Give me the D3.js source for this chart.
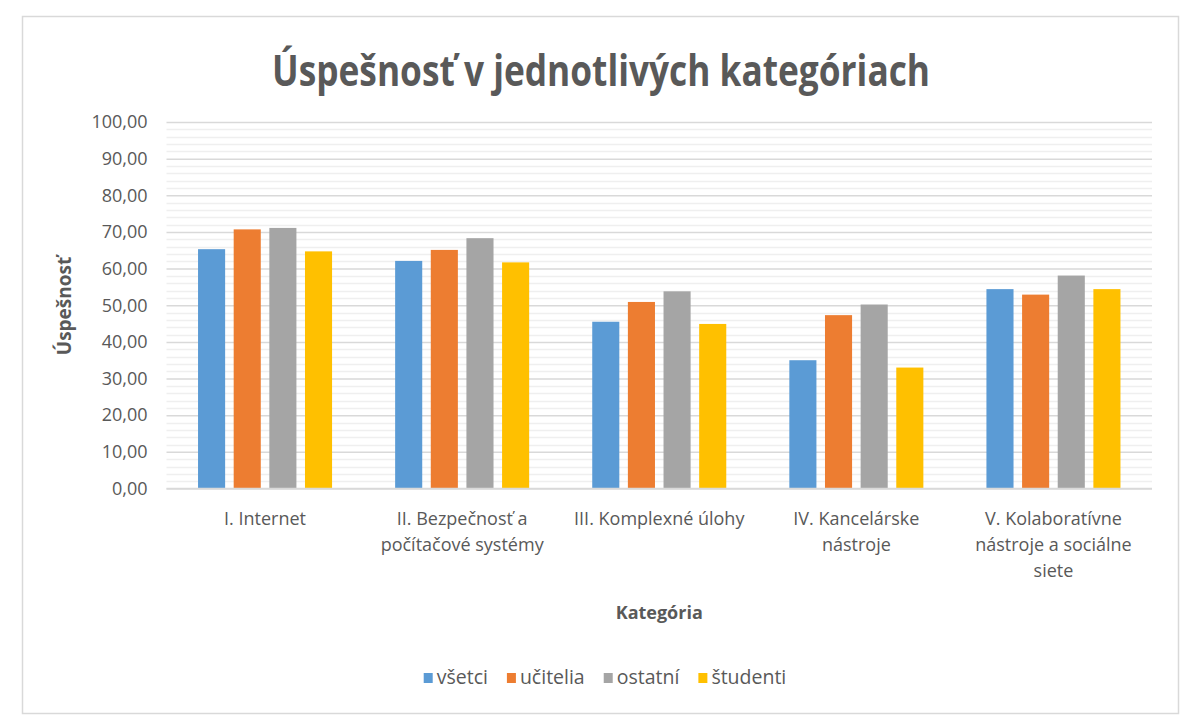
<!DOCTYPE html>
<html>
<head>
<meta charset="utf-8">
<script src="https://cdn.jsdelivr.net/npm/d3@7"></script>
<style>
  html, body { margin: 0; padding: 0; background: #fff; }
  svg { display: block; }
  text { font-family: "Open Sans", "Noto Sans", sans-serif; }
</style>
</head>
<body>
<svg id="chart" width="1200" height="727"></svg>
<script>
// ---- data ----
const categories = [
  "I. Internet",
  "II. Bezpečnosť a počítačové systémy",
  "III. Komplexné úlohy",
  "IV. Kancelárske nástroje",
  "V. Kolaboratívne nástroje a sociálne siete"
];
const categoryLines = [
  ["I. Internet"],
  ["II. Bezpečnosť a", "počítačové systémy"],
  ["III. Komplexné úlohy"],
  ["IV. Kancelárske", "nástroje"],
  ["V. Kolaboratívne", "nástroje a sociálne", "siete"]
];
const seriesNames = ["všetci", "učitelia", "ostatní", "študenti"];
const vsetci   = [65.3, 62.1, 45.5, 35.0, 54.4];
const ucitelia = [70.7, 65.1, 50.9, 47.3, 52.9];
const ostatni  = [71.1, 68.3, 53.8, 50.2, 58.1];
const studenti = [64.7, 61.7, 44.9, 33.0, 54.4];
const seriesValues = [vsetci, ucitelia, ostatni, studenti];
const colors = ["#5b9bd5", "#ed7d31", "#a5a5a5", "#ffc000"];
const yTicks = [0, 10, 20, 30, 40, 50, 60, 70, 80, 90, 100];
const titleText = "Úspešnosť v jednotlivých kategóriach";
const yTitle = "Úspešnosť";
const xTitle = "Kategória";

// ---- layout ----
const svg = d3.select("#chart");
const plot = { left: 166.5, right: 1152, top: 122, bottom: 488.5 };

svg.append("rect")
  .attr("x", 22.5).attr("y", 16.5).attr("width", 1156).attr("height", 697)
  .attr("fill", "#fff").attr("stroke", "#d9d9d9").attr("stroke-width", 1.5);

const y = d3.scaleLinear().domain([0, 100]).range([plot.bottom, plot.top]);
const x0 = d3.scaleBand().domain(categories).range([plot.left, plot.right])
  .paddingInner(0.32).paddingOuter(0.16);
const x1 = d3.scaleBand().domain(seriesNames).range([0, x0.bandwidth()])
  .paddingInner(0.24).paddingOuter(0);

// minor gridlines
const minor = d3.range(0, 101, 2).filter(v => v % 10 !== 0);
svg.append("g").selectAll("line").data(minor).join("line")
  .attr("x1", plot.left).attr("x2", plot.right)
  .attr("y1", d => Math.round(y(d)) + 0.5).attr("y2", d => Math.round(y(d)) + 0.5)
  .attr("stroke", "#efefef").attr("stroke-width", 1.5);

// major gridlines via axis
const yAxis = d3.axisLeft(y).tickValues(yTicks)
  .tickSize(-(plot.right - plot.left)).tickPadding(19)
  .tickFormat(d => d3.format(".2f")(d).replace(".", ","));
const gy = svg.append("g").attr("transform", `translate(${plot.left},0)`).call(yAxis);
gy.select(".domain").remove();
gy.selectAll(".tick line").attr("stroke", "#d9d9d9").attr("stroke-width", 1.5);
gy.selectAll(".tick text").attr("fill", "#595959").attr("font-size", 18)
  .attr("font-family", "'Open Sans', sans-serif");

// bars
const groups = svg.append("g").selectAll("g").data(categories).join("g")
  .attr("transform", d => `translate(${x0(d)},0)`);
groups.selectAll("rect")
  .data((c, i) => seriesNames.map((s, j) => ({ s, j, v: seriesValues[j][i] })))
  .join("rect")
  .attr("x", d => x1(d.s))
  .attr("width", x1.bandwidth())
  .attr("y", d => y(d.v))
  .attr("height", d => y(0) - y(d.v))
  .attr("fill", d => colors[d.j]);

// x axis baseline
svg.append("line")
  .attr("x1", plot.left).attr("x2", plot.right)
  .attr("y1", y(0)).attr("y2", y(0))
  .attr("stroke", "#d9d9d9").attr("stroke-width", 1.5);

// x axis labels
const xl = svg.append("g").selectAll("text").data(categories).join("text")
  .attr("x", d => x0(d) + x0.bandwidth() / 2)
  .attr("y", 525)
  .attr("text-anchor", "middle")
  .attr("fill", "#595959").attr("font-size", 18);
xl.selectAll("tspan").data((d, i) => categoryLines[i]).join("tspan")
  .attr("x", function () { return d3.select(this.parentNode).attr("x"); })
  .attr("dy", (d, i) => i === 0 ? 0 : 26)
  .text(d => d);

// title
svg.append("text")
  .attr("x", 601).attr("y", 86)
  .attr("text-anchor", "middle")
  .attr("font-size", 43).attr("font-weight", "bold")
  .attr("fill", "#595959")
  .attr("textLength", 658).attr("lengthAdjust", "spacingAndGlyphs")
  .text(titleText);

// axis titles
svg.append("text")
  .attr("transform", "translate(71,306) rotate(-90)")
  .attr("text-anchor", "middle")
  .attr("font-size", 19).attr("font-weight", "bold").attr("fill", "#595959")
  .text(yTitle);
svg.append("text")
  .attr("x", (plot.left + plot.right) / 2).attr("y", 619)
  .attr("text-anchor", "middle")
  .attr("font-size", 18).attr("font-weight", "bold").attr("fill", "#595959")
  .text(xTitle);

// legend
const legend = svg.append("g");
const items = legend.selectAll("g").data(seriesNames).join("g");
items.append("rect").attr("width", 9).attr("height", 10).attr("y", -11)
  .attr("fill", (d, i) => colors[i]);
items.append("text").attr("x", 13).attr("y", 0)
  .attr("font-size", 19.5).attr("fill", "#595959").text(d => d);
let cx = 0;
items.each(function () {
  const w = 13 + d3.select(this).select("text").node().getComputedTextLength();
  d3.select(this).attr("transform", `translate(${cx},0)`);
  cx += w + 19;
});
const totalW = cx - 19;
legend.attr("transform", `translate(${605 - totalW / 2},684)`);
</script>
</body>
</html>
